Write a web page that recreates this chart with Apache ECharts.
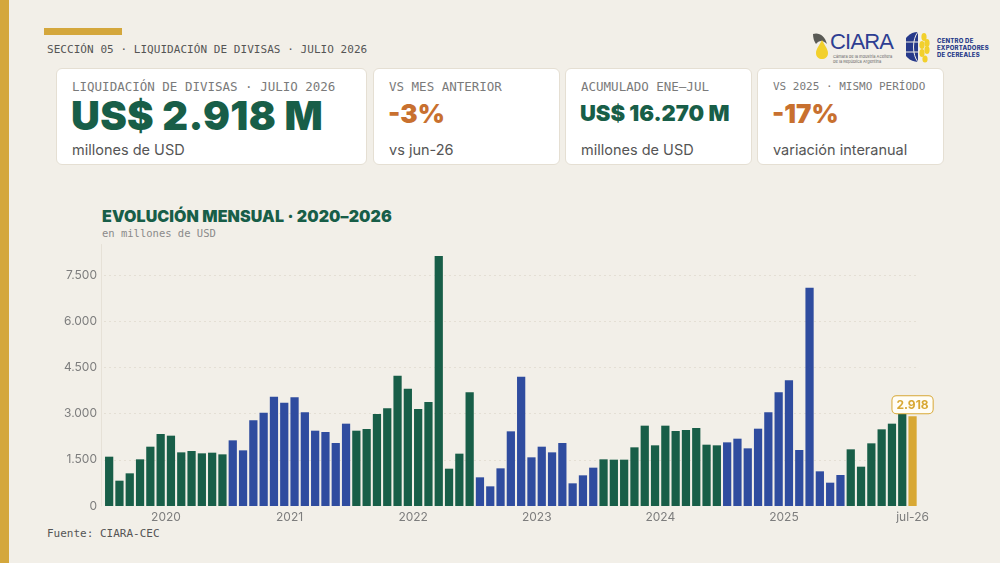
<!DOCTYPE html>
<html><head><meta charset="utf-8">
<script src="https://cdn.jsdelivr.net/npm/echarts@6/dist/echarts.min.js"></script>
<style>
html,body{margin:0;padding:0;}
body{width:1000px;height:563px;background:#F2EFE8;position:relative;overflow:hidden;font-family:Inter,"Noto Sans",sans-serif;}
.stripe{position:absolute;left:0;top:0;width:9px;height:563px;background:#D4A73C;}
.goldbar{position:absolute;left:44px;top:28px;width:78px;height:7px;background:#D4A73C;}
.mono{font-family:"DejaVu Sans Mono","Liberation Mono",monospace;}
.sec{position:absolute;left:47px;top:43px;font-size:11px;color:#555;letter-spacing:0.05px;}
.card{position:absolute;top:68px;height:97px;background:#fff;border:1px solid #E5DFD3;border-radius:6px;box-sizing:border-box;}
.card .lab{position:absolute;left:15px;top:10px;font-size:12.5px;color:#7a7a7a;white-space:nowrap;}
.card .val{position:absolute;left:14px;white-space:nowrap;font-weight:900;}
.card .sub{position:absolute;left:15px;top:72px;font-size:14.5px;color:#555;white-space:nowrap;}
.green{color:#185E48;}
.orange{color:#C8702F;}
.ttl{position:absolute;left:102px;top:206px;font-size:16px;font-weight:900;color:#185E48;letter-spacing:0.1px;white-space:nowrap;}
.stt{position:absolute;left:102px;top:227px;font-size:10.5px;color:#8a8a8a;}
.src{position:absolute;left:47px;top:527px;font-size:11px;color:#555;}
#chart{position:absolute;left:0;top:190px;width:1000px;height:373px;}
.logo{position:absolute;}
</style></head>
<body>
<div class="stripe"></div>
<div class="goldbar"></div>
<div class="sec mono">SECCIÓN 05 · LIQUIDACIÓN DE DIVISAS · JULIO 2026</div>

<div class="logo" style="left:811px;top:30px;width:90px;height:36px;">
  <svg width="22" height="30" viewBox="0 0 22 30" style="position:absolute;left:0;top:0">
    <path d="M2 4 C8 2 14 6 16 14 C12 10 8 10 5 14 C3 11 2 8 2 4 Z" fill="#5a5a55"/>
    <path d="M11 10 C14 16 17 19 17 23 C17 27 14 29 11 29 C8 29 5 27 5 23 C5 19 8 16 11 10 Z" fill="#F2D02C"/>
  </svg>
  <div style="position:absolute;left:19px;top:-1px;font-size:22px;color:#2E3E92;font-family:'Liberation Sans',Arial,sans-serif;letter-spacing:-0.8px;">CIARA</div>
  <div style="position:absolute;left:22px;top:24px;font-size:4px;line-height:5px;color:#666;white-space:nowrap;">Cámara de la Industria Aceitera<br>de la República Argentina</div>
</div>
<div class="logo" style="left:906px;top:31px;width:90px;height:34px;">
  <svg width="30" height="32" viewBox="0 0 30 32" style="position:absolute;left:0;top:0">
    <path d="M12 1 A15 15 0 0 0 12 31 Z" fill="#273A8A"/>
    <path d="M12 1 C6 8 6 24 12 31" stroke="#F2EFE8" stroke-width="1" fill="none"/>
    <line x1="0" y1="11" x2="12" y2="11" stroke="#F2EFE8" stroke-width="1"/>
    <line x1="0" y1="21" x2="12" y2="21" stroke="#F2EFE8" stroke-width="1"/>
    <ellipse cx="18" cy="6" rx="2.6" ry="4" fill="#F2D02C"/>
    <ellipse cx="21" cy="12" rx="2.6" ry="4" fill="#F2D02C"/>
    <ellipse cx="16" cy="14" rx="2.6" ry="4" fill="#F2D02C"/>
    <ellipse cx="21" cy="19" rx="2.6" ry="4" fill="#F2D02C"/>
    <ellipse cx="16" cy="22" rx="2.6" ry="4" fill="#F2D02C"/>
    <ellipse cx="19" cy="28" rx="2.6" ry="3.5" fill="#F2D02C"/>
  </svg>
  <div style="position:absolute;left:31px;top:6px;font-size:6px;line-height:7px;font-weight:800;color:#273A8A;white-space:nowrap;letter-spacing:0.2px;">CENTRO DE<br>EXPORTADORES<br>DE CEREALES</div>
</div>

<div class="card" style="left:56px;width:311px;">
  <div class="lab mono">LIQUIDACIÓN DE DIVISAS · JULIO 2026</div>
  <div class="val green" style="top:22px;font-size:40px;letter-spacing:0.3px;">US$ 2.918 M</div>
  <div class="sub">millones de USD</div>
</div>
<div class="card" style="left:373px;width:187px;">
  <div class="lab mono">VS MES ANTERIOR</div>
  <div class="val orange" style="top:29px;font-size:26px;">-3%</div>
  <div class="sub">vs jun-26</div>
</div>
<div class="card" style="left:565px;width:187px;">
  <div class="lab mono">ACUMULADO ENE–JUL</div>
  <div class="val green" style="top:31px;font-size:22px;letter-spacing:-0.05px;">US$ 16.270 M</div>
  <div class="sub">millones de USD</div>
</div>
<div class="card" style="left:757px;width:187px;">
  <div class="lab mono" style="font-size:11px;top:11px;">VS 2025 · MISMO PERÍODO</div>
  <div class="val orange" style="top:29px;font-size:26px;">-17%</div>
  <div class="sub">variación interanual</div>
</div>

<div class="ttl">EVOLUCIÓN MENSUAL · 2020–2026</div>
<div class="stt mono">en millones de USD</div>
<div class="src mono">Fuente: CIARA-CEC</div>
<div id="chart"></div>

<script>
// Monthly liquidation, millions of USD
const years = [2020, 2021, 2022, 2023, 2024, 2025, 2026];
const v2020 = [1603, 823, 1062, 1517, 1928, 2340, 2286, 1744, 1788, 1712, 1733, 1679];
const v2021 = [2134, 1809, 2784, 3033, 3553, 3358, 3532, 3044, 2448, 2405, 2047, 2676];
const v2022 = [2448, 2502, 2990, 3174, 4236, 3813, 3152, 3380, 8125, 1213, 1701, 3694];
const v2023 = [932, 639, 1224, 2427, 4203, 1582, 1928, 1744, 2047, 737, 997, 1246];
const v2024 = [1517, 1506, 1506, 1907, 2611, 1972, 2611, 2437, 2470, 2535, 1993, 1972];
const v2025 = [2069, 2188, 1874, 2513, 3044, 3694, 4084, 1820, 7096, 1127, 758, 1007];
const v2026 = [1842, 1278, 2037, 2492, 2676, 3008, 2918];
const yTicks = [0, 1500, 3000, 4500, 6000, 7500];
const monthAbbr = ['ene','feb','mar','abr','may','jun','jul','ago','sep','oct','nov','dic'];

const allYears = [v2020, v2021, v2022, v2023, v2024, v2025, v2026];
const GREEN = '#185E48', BLUE = '#2F4C9F', GOLD = '#D8A834';
const categories = [];
const data = [];
allYears.forEach((arr, yi) => {
  arr.forEach((v, mi) => {
    categories.push(years[yi] + '-' + String(mi + 1).padStart(2, '0'));
    data.push({ value: v, itemStyle: { color: yi % 2 === 0 ? GREEN : BLUE } });
  });
});
const lastIdx = data.length - 1;
data[lastIdx].itemStyle = { color: GOLD };
data[lastIdx].label = {
  show: true, position: 'top', distance: 3,
  formatter: p => p.value.toLocaleString('de-DE'),
  backgroundColor: '#FFFDF6', borderColor: GOLD, borderWidth: 1, borderRadius: 4,
  padding: [3, 4, 2, 4], color: GOLD, fontWeight: 'bold', fontSize: 12,
  fontFamily: 'Inter'
};

const chart = echarts.init(document.getElementById('chart'), null, { renderer: 'canvas' });
chart.setOption({
  animation: false,
  grid: { left: 104, right: 82.3, top: 54.5, bottom: 57 },
  xAxis: {
    type: 'category', data: categories, boundaryGap: true,
    axisLine: { show: false }, axisTick: { show: false },
    axisLabel: {
      interval: (i, v) => v.endsWith('-07'),
      margin: 5,
      formatter: (v, i) => {
        const y = v.slice(0, 4);
        if (i === lastIdx) return '{j|' + monthAbbr[6] + '-' + y.slice(2) + '}';
        return '{y|' + y + '}';
      },
      rich: {
        y: { fontSize: 12, color: '#7d7d7d', fontFamily: 'Inter', padding: [0, 10, 0, 0] },
        j: { fontSize: 12, color: '#7d7d7d', fontFamily: 'Inter' }
      }
    }
  },
  yAxis: {
    type: 'value', min: 0, max: 8500, interval: 1500, offset: 3,
    axisLine: { show: true, lineStyle: { color: '#E6E1D7', width: 1 } },
    axisTick: { show: false },
    splitLine: { show: true, showMinLine: false, showMaxLine: false, lineStyle: { color: '#E4DFD4', type: [2, 3] } },
    axisLabel: {
      showMaxLabel: false, margin: 4, color: '#7d7d7d', fontSize: 12, fontFamily: 'Inter',
      formatter: v => yTicks.includes(v) ? v.toLocaleString('de-DE') : ''
    }
  },
  series: [{ type: 'bar', data: data, barCategoryGap: '20%' }]
});
</script>
</body></html>
